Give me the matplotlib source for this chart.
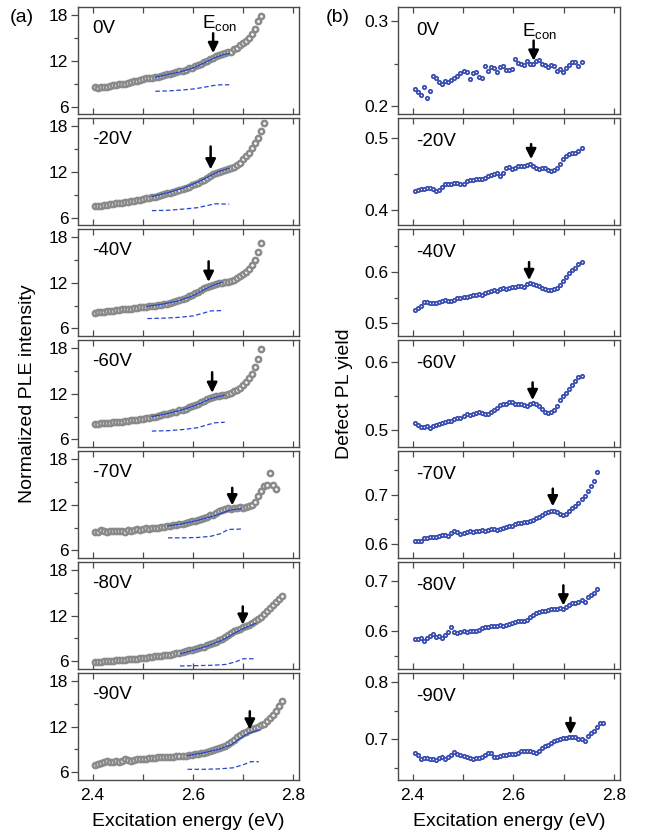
import numpy as np
import matplotlib
matplotlib.use('Agg')
import matplotlib.pyplot as plt
from matplotlib.ticker import MultipleLocator, FormatStrFormatter

plt.rcParams['font.family'] = 'Liberation Sans'
plt.rcParams['mathtext.fontset'] = 'custom'
plt.rcParams['mathtext.rm'] = 'Liberation Sans'

# Excitation energies (eV), shared by all gate voltages
energy = [2.405, 2.411, 2.417, 2.423, 2.429, 2.435, 2.441, 2.447, 2.453, 2.459,
          2.465, 2.471, 2.477, 2.483, 2.489, 2.495, 2.501, 2.507, 2.513, 2.519,
          2.525, 2.531, 2.537, 2.543, 2.549, 2.555, 2.561, 2.567, 2.573, 2.579,
          2.585, 2.591, 2.597, 2.603, 2.609, 2.615, 2.621, 2.627, 2.633, 2.639,
          2.645, 2.651, 2.657, 2.663, 2.669, 2.675, 2.681, 2.687, 2.693, 2.699,
          2.705, 2.711, 2.717, 2.723, 2.729, 2.735, 2.741, 2.747, 2.753, 2.759,
          2.765, 2.771, 2.777]

voltages = ['0V', '-20V', '-40V', '-60V', '-70V', '-80V', '-90V']
e_con = [2.640, 2.635, 2.631, 2.638, 2.678, 2.699, 2.713]

# Normalized PLE intensity
ple_0 = [8.5, 8.4, 8.5, 8.6, 8.6, 8.7, 8.8, 8.8, 8.9, 9.0, 9.0, 9.1, 9.2, 9.3, 9.4,
         9.5, 9.6, 9.7, 9.7, 9.8, 9.9, 9.9, 10.0, 10.1, 10.2, 10.3, 10.4, 10.5, 10.6,
         10.7, 10.8, 11.0, 11.1, 11.3, 11.5, 11.6, 11.8, 12.0, 12.2, 12.4, 12.6, 12.8,
         12.9, 13.0, 13.1, 13.2, 13.5, 13.7, 14.0, 14.3, 14.6, 15.0, 15.5, 16.2, 17.2,
         17.8]
ple_20 = [7.45, 7.5, 7.55, 7.6, 7.65, 7.75, 7.8, 7.85, 7.9, 7.95, 8.0, 8.05, 8.1, 8.2,
          8.25, 8.35, 8.4, 8.5, 8.55, 8.65, 8.75, 8.85, 8.95, 9.05, 9.15, 9.25, 9.35,
          9.5, 9.6, 9.75, 9.9, 10.05, 10.2, 10.35, 10.55, 10.75, 10.95, 11.15, 11.4,
          11.65, 11.85, 12.0, 12.1, 12.2, 12.3, 12.45, 12.6, 12.9, 13.2, 13.6, 14.0,
          14.5, 15.1, 15.7, 16.4, 17.3, 18.4]
ple_40 = [8.05, 8.1, 8.1, 8.2, 8.25, 8.3, 8.35, 8.4, 8.45, 8.5, 8.55, 8.6, 8.6, 8.65,
          8.7, 8.75, 8.8, 8.85, 8.9, 8.95, 9.0, 9.05, 9.1, 9.2, 9.25, 9.35, 9.45, 9.55,
          9.7, 9.85, 10.0, 10.2, 10.4, 10.6, 10.8, 11.0, 11.25, 11.45, 11.6, 11.7, 11.8,
          11.9, 12.0, 12.05, 12.15, 12.25, 12.4, 12.6, 12.85, 13.1, 13.4, 13.8, 14.3,
          15.0, 16.0, 17.2]
ple_60 = [8.0, 8.05, 8.1, 8.15, 8.15, 8.2, 8.25, 8.3, 8.3, 8.35, 8.4, 8.45, 8.5, 8.55,
          8.6, 8.65, 8.7, 8.75, 8.85, 8.95, 9.0, 9.1, 9.2, 9.3, 9.35, 9.45, 9.55, 9.65,
          9.8, 9.9, 10.05, 10.2, 10.35, 10.5, 10.7, 10.9, 11.1, 11.3, 11.45, 11.55,
          11.65, 11.7, 11.8, 11.85, 11.95, 12.1, 12.3, 12.5, 12.8, 13.1, 13.5, 14.0,
          14.6, 15.5, 16.6, 17.9]
ple_70 = [8.4, 8.4, 8.7, 8.5, 8.4, 8.6, 8.6, 8.5, 8.6, 8.5, 8.4, 8.7, 8.6, 8.7, 8.8,
          8.7, 8.8, 8.9, 8.8, 8.9, 9.0, 9.0, 9.1, 9.1, 9.2, 9.2, 9.3, 9.3, 9.4, 9.5,
          9.6, 9.7, 9.8, 9.9, 10.0, 10.1, 10.3, 10.4, 10.6, 10.7, 10.9, 11.1, 11.3,
          11.4, 11.5, 11.4, 11.5, 11.6, 11.7, 11.6, 11.7, 11.8, 12.0, 12.4, 13.1, 13.8,
          14.4, 14.6, 16.1, 14.6, 14.1]
ple_80 = [5.9, 5.95, 5.95, 6.0, 6.05, 6.05, 6.1, 6.15, 6.15, 6.2, 6.2, 6.25, 6.3, 6.3,
          6.35, 6.4, 6.45, 6.5, 6.55, 6.6, 6.65, 6.7, 6.75, 6.8, 6.85, 6.9, 7.0, 7.05,
          7.15, 7.25, 7.35, 7.45, 7.55, 7.65, 7.75, 7.85, 7.95, 8.1, 8.25, 8.4, 8.55,
          8.75, 8.95, 9.2, 9.45, 9.7, 9.95, 10.15, 10.3, 10.45, 10.6, 10.8, 11.0,
          11.25, 11.5, 11.8, 12.2, 12.6, 13.0, 13.4, 13.8, 14.2, 14.6]
ple_90 = [7.0, 7.05, 7.2, 7.3, 7.5, 7.35, 7.3, 7.45, 7.3, 7.5, 7.7, 7.65, 7.5, 7.6,
          7.7, 7.75, 7.8, 7.8, 7.85, 7.9, 7.9, 7.95, 7.95, 8.0, 8.0, 8.05, 8.05, 8.1,
          8.1, 8.15, 8.2, 8.25, 8.3, 8.4, 8.45, 8.5, 8.6, 8.7, 8.8, 8.9, 9.0, 9.15,
          9.3, 9.5, 9.7, 10.0, 10.3, 10.6, 10.9, 11.1, 11.3, 11.5, 11.7, 11.85, 12.0,
          12.2, 12.4, 12.7, 13.1, 13.5, 14.0, 14.7, 15.4]

# Fit curve (solid) and step component (dashed) for each voltage
fit_e = [[2.525, 2.55, 2.575, 2.60, 2.625, 2.645, 2.66, 2.672],
         [2.518, 2.55, 2.58, 2.61, 2.635, 2.65, 2.672],
         [2.509, 2.54, 2.57, 2.60, 2.625, 2.64, 2.657],
         [2.518, 2.55, 2.58, 2.61, 2.635, 2.65, 2.663],
         [2.55, 2.58, 2.61, 2.64, 2.66, 2.675, 2.685, 2.696],
         [2.574, 2.60, 2.63, 2.66, 2.685, 2.70, 2.725],
         [2.589, 2.62, 2.65, 2.675, 2.695, 2.71, 2.731]]
fit_v = [[9.85, 10.2, 10.55, 11.05, 11.8, 12.45, 12.8, 12.95],
         [8.75, 9.25, 9.85, 10.65, 11.5, 12.0, 12.45],
         [8.9, 9.2, 9.6, 10.3, 11.2, 11.65, 12.05],
         [9.0, 9.4, 9.9, 10.6, 11.35, 11.6, 11.8],
         [9.2, 9.5, 9.95, 10.5, 10.95, 11.3, 11.4, 11.45],
         [7.0, 7.45, 8.05, 8.85, 9.8, 10.3, 11.0],
         [8.2, 8.55, 9.0, 9.6, 10.5, 11.1, 11.55]]
step_e = [[2.525, 2.55, 2.575, 2.60, 2.62, 2.64, 2.655, 2.672],
          [2.518, 2.55, 2.58, 2.61, 2.63, 2.645, 2.672],
          [2.509, 2.54, 2.57, 2.60, 2.62, 2.635, 2.657],
          [2.518, 2.55, 2.58, 2.61, 2.63, 2.645, 2.663],
          [2.55, 2.58, 2.61, 2.635, 2.655, 2.67, 2.696],
          [2.574, 2.61, 2.64, 2.665, 2.685, 2.70, 2.725],
          [2.589, 2.62, 2.65, 2.68, 2.70, 2.715, 2.731]]
step_v = [[8.0, 8.05, 8.15, 8.3, 8.5, 8.75, 8.85, 8.85],
          [6.9, 6.95, 7.1, 7.3, 7.6, 7.8, 7.75],
          [7.3, 7.35, 7.45, 7.65, 8.0, 8.3, 8.35],
          [7.1, 7.15, 7.3, 7.55, 7.95, 8.2, 8.25],
          [7.65, 7.65, 7.7, 7.85, 8.2, 8.75, 8.8],
          [5.4, 5.45, 5.5, 5.6, 5.95, 6.35, 6.35],
          [6.4, 6.4, 6.45, 6.6, 7.0, 7.4, 7.4]]

# Defect PL yield
yield_0 = [0.220, 0.217, 0.214, 0.223, 0.210, 0.218, 0.236, 0.233, 0.229, 0.226,
           0.230, 0.229, 0.231, 0.233, 0.236, 0.239, 0.241, 0.240, 0.232, 0.239,
           0.240, 0.235, 0.233, 0.247, 0.242, 0.246, 0.245, 0.240, 0.246, 0.247,
           0.243, 0.243, 0.244, 0.255, 0.251, 0.250, 0.249, 0.253, 0.250, 0.250,
           0.253, 0.254, 0.250, 0.248, 0.246, 0.248, 0.247, 0.241, 0.244, 0.240,
           0.245, 0.249, 0.252, 0.252, 0.247, 0.252]
yield_20 = [0.426, 0.428, 0.429, 0.430, 0.431, 0.431, 0.430, 0.426, 0.428, 0.432,
            0.437, 0.436, 0.436, 0.438, 0.438, 0.437, 0.436, 0.441, 0.442, 0.442,
            0.443, 0.444, 0.444, 0.445, 0.447, 0.449, 0.450, 0.452, 0.448, 0.452,
            0.458, 0.460, 0.457, 0.459, 0.462, 0.461, 0.462, 0.463, 0.464, 0.462,
            0.458, 0.457, 0.458, 0.458, 0.456, 0.454, 0.456, 0.458, 0.464, 0.471,
            0.476, 0.478, 0.479, 0.480, 0.482, 0.487]
yield_40 = [0.526, 0.530, 0.534, 0.541, 0.542, 0.539, 0.539, 0.540, 0.541, 0.544,
            0.545, 0.544, 0.544, 0.545, 0.549, 0.550, 0.551, 0.552, 0.553, 0.555,
            0.556, 0.557, 0.556, 0.558, 0.561, 0.562, 0.564, 0.563, 0.567, 0.568,
            0.567, 0.568, 0.570, 0.571, 0.572, 0.573, 0.571, 0.576, 0.578, 0.577,
            0.575, 0.572, 0.569, 0.566, 0.565, 0.564, 0.566, 0.569, 0.574, 0.582,
            0.590, 0.598, 0.604, 0.608, 0.615, 0.620]
yield_60 = [0.510, 0.507, 0.505, 0.504, 0.506, 0.503, 0.506, 0.508, 0.509, 0.510,
            0.512, 0.514, 0.514, 0.516, 0.518, 0.518, 0.520, 0.523, 0.522, 0.524,
            0.525, 0.526, 0.525, 0.524, 0.524, 0.526, 0.530, 0.532, 0.537, 0.538,
            0.539, 0.541, 0.541, 0.539, 0.538, 0.538, 0.537, 0.536, 0.538, 0.540,
            0.538, 0.535, 0.531, 0.526, 0.525, 0.527, 0.529, 0.535, 0.544, 0.550,
            0.555, 0.561, 0.566, 0.572, 0.578, 0.579]
yield_70 = [0.605, 0.605, 0.606, 0.611, 0.612, 0.613, 0.613, 0.614, 0.616, 0.617,
            0.618, 0.616, 0.621, 0.626, 0.624, 0.620, 0.621, 0.623, 0.625, 0.624,
            0.626, 0.626, 0.627, 0.625, 0.628, 0.630, 0.631, 0.628, 0.630, 0.632,
            0.634, 0.636, 0.637, 0.640, 0.642, 0.643, 0.645, 0.645, 0.646, 0.649,
            0.652, 0.655, 0.659, 0.663, 0.665, 0.666, 0.667, 0.664, 0.660, 0.659,
            0.661, 0.666, 0.672, 0.677, 0.683, 0.690, 0.698, 0.707, 0.717, 0.728,
            0.745]
yield_80 = [0.585, 0.585, 0.587, 0.581, 0.587, 0.590, 0.594, 0.589, 0.590, 0.587,
            0.593, 0.599, 0.609, 0.598, 0.597, 0.599, 0.600, 0.599, 0.601, 0.600,
            0.600, 0.603, 0.606, 0.609, 0.608, 0.610, 0.611, 0.610, 0.612, 0.611,
            0.612, 0.615, 0.617, 0.619, 0.621, 0.620, 0.620, 0.622, 0.628, 0.632,
            0.637, 0.639, 0.641, 0.640, 0.643, 0.644, 0.645, 0.645, 0.646, 0.644,
            0.649, 0.652, 0.655, 0.655, 0.658, 0.662, 0.657, 0.668, 0.671, 0.675,
            0.684]
yield_90 = [0.677, 0.672, 0.666, 0.668, 0.667, 0.666, 0.666, 0.664, 0.668, 0.670,
            0.665, 0.670, 0.672, 0.678, 0.674, 0.672, 0.671, 0.670, 0.668, 0.666,
            0.667, 0.668, 0.670, 0.673, 0.676, 0.677, 0.670, 0.669, 0.671, 0.672,
            0.673, 0.674, 0.674, 0.675, 0.677, 0.679, 0.680, 0.680, 0.679, 0.678,
            0.677, 0.680, 0.685, 0.688, 0.691, 0.693, 0.697, 0.699, 0.701, 0.702,
            0.703, 0.704, 0.705, 0.704, 0.701, 0.700, 0.697, 0.706, 0.711, 0.715,
            0.721, 0.729, 0.729]

ple = [ple_0, ple_20, ple_40, ple_60, ple_70, ple_80, ple_90]
pl_yield = [yield_0, yield_20, yield_40, yield_60, yield_70, yield_80, yield_90]

# Axis ranges of the defect PL yield panels
yield_lims = [(0.191, 0.316), (0.379, 0.528), (0.475, 0.683), (0.475, 0.632),
              (0.571, 0.788), (0.525, 0.737), (0.629, 0.816)]
# Arrow tips / tails (data units) for the E_con markers
ple_arrow = [(13.0, 15.6), (12.3, 15.3), (12.1, 14.8), (12.1, 14.8),
             (11.9, 14.2), (10.8, 13.2), (11.6, 14.0)]
yield_arrow = [(0.2535, 0.277), (0.471, 0.492), (0.584, 0.619), (0.544, 0.570),
               (0.676, 0.712), (0.651, 0.691), (0.709, 0.738)]

gray = '#8a8a8a'
blue = '#3a4db0'
fit_blue = '#2447cc'
spine_col = '#4a4a4a'
arrow_style = '-|>,head_length=0.5,head_width=0.25'

fig = plt.figure(figsize=(6.45, 8.38), dpi=100)
gs_l = fig.add_gridspec(7, 1, left=0.121, right=0.4636, top=0.9913,
                        bottom=0.0692, hspace=0.038)
gs_r = fig.add_gridspec(7, 1, left=0.617, right=0.961, top=0.9913,
                        bottom=0.0692, hspace=0.038)


def style_axis(ax, last):
    ax.set_xlim(2.371, 2.811)
    ax.xaxis.set_major_locator(MultipleLocator(0.2))
    ax.xaxis.set_minor_locator(MultipleLocator(0.1))
    ax.xaxis.set_major_formatter(FormatStrFormatter('%.1f'))
    ax.tick_params(axis='x', which='both', direction='in', top=True,
                   length=4, width=0.9, color=spine_col, labelsize=12.5, pad=6)
    ax.tick_params(axis='y', which='major', direction='out', length=5,
                   width=0.9, color=spine_col, labelsize=12.5, pad=2)
    ax.tick_params(axis='y', which='minor', direction='out', length=3,
                   width=0.9, color=spine_col)
    for s in ax.spines.values():
        s.set_color(spine_col)
        s.set_linewidth(1.0)
    if not last:
        ax.tick_params(axis='x', labelbottom=False)
    else:
        ax.set_xlabel('Excitation energy (eV)', fontsize=14, labelpad=7)


for i in range(7):
    last = i == 6

    # Left column: PLE intensity with fit and step component
    ax = fig.add_subplot(gs_l[i, 0])
    n = len(ple[i])
    ax.plot(energy[:n], ple[i], 'o', ms=3.8, mew=1.8, mec=gray, mfc='white',
            zorder=2)
    ax.plot(fit_e[i], fit_v[i], '-', color=fit_blue, lw=0.9, zorder=3)
    ax.plot(step_e[i], step_v[i], '--', color=fit_blue, lw=0.9,
            dashes=(3.6, 2.0), zorder=3)
    tip, tail = ple_arrow[i]
    ax.annotate('', xy=(e_con[i], tip), xytext=(e_con[i], tail),
                arrowprops=dict(arrowstyle=arrow_style, color='k', lw=1.8,
                                shrinkA=0, shrinkB=0, mutation_scale=12),
                zorder=4)
    ax.set_ylim(5.0, 19.0)
    ax.yaxis.set_major_locator(MultipleLocator(6))
    ax.yaxis.set_minor_locator(MultipleLocator(3))
    ax.text(0.063, 0.80, voltages[i], transform=ax.transAxes, fontsize=13.5,
            ha='left', va='center')
    if i == 0:
        ax.text(2.652, 15.5, r'E$_{\rm con}$', fontsize=13.5, ha='center',
                va='bottom')
    style_axis(ax, last)

    # Right column: defect PL yield
    ax = fig.add_subplot(gs_r[i, 0])
    n = len(pl_yield[i])
    ax.plot(energy[:n], pl_yield[i], 'o', ms=2.4, mew=1.3, mec=blue,
            mfc='white', zorder=2)
    tip, tail = yield_arrow[i]
    ax.annotate('', xy=(e_con[i], tip), xytext=(e_con[i], tail),
                arrowprops=dict(arrowstyle=arrow_style, color='k', lw=1.8,
                                shrinkA=0, shrinkB=0, mutation_scale=12),
                zorder=4)
    ax.set_ylim(*yield_lims[i])
    ax.yaxis.set_major_locator(MultipleLocator(0.1))
    ax.yaxis.set_minor_locator(MultipleLocator(0.05))
    ax.yaxis.set_major_formatter(FormatStrFormatter('%.1f'))
    ax.text(0.084, 0.78, voltages[i], transform=ax.transAxes, fontsize=13.5,
            ha='left', va='center')
    if i == 0:
        ax.text(2.651, 0.276, r'E$_{\rm con}$', fontsize=13.5, ha='center',
                va='bottom')
    style_axis(ax, last)

fig.text(0.0426, 0.5305, 'Normalized PLE intensity', rotation=90, fontsize=14,
         ha='center', va='center')
fig.text(0.534, 0.5305, 'Defect PL yield', rotation=90, fontsize=14,
         ha='center', va='center')
fig.text(0.034, 0.979, '(a)', fontsize=14, ha='center', va='center')
fig.text(0.523, 0.979, '(b)', fontsize=14, ha='center', va='center')

fig.savefig('out.png', dpi=100)
